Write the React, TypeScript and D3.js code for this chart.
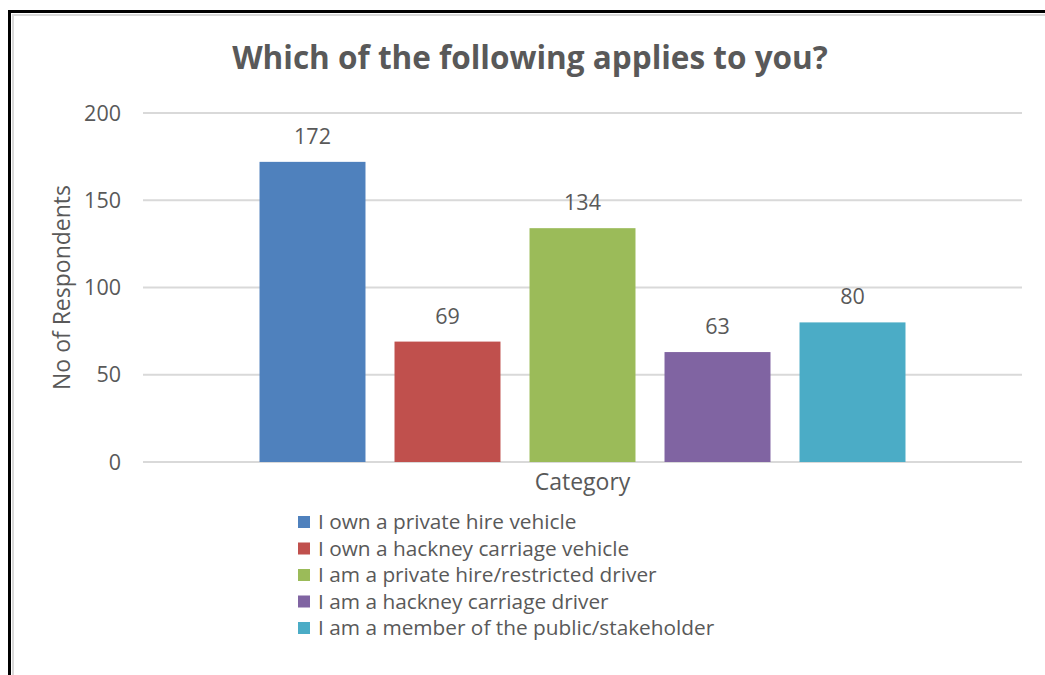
import React from 'react';
import * as d3 from 'd3';

const title = 'Which of the following applies to you?';
const categories = [
    'I own a private hire vehicle',
    'I own a hackney carriage vehicle',
    'I am a private hire/restricted driver',
    'I am a hackney carriage driver',
    'I am a member of the public/stakeholder',
];
const values = [172, 69, 134, 63, 80];
const colors = ['#4F81BD', '#C0504D', '#9BBB59', '#8064A2', '#4BACC6'];
const yTicks = [0, 50, 100, 150, 200];
const xLabel = 'Category';
const yLabel = 'No of Respondents';

const W = 1045;
const H = 675;
const font = '"Open Sans", sans-serif';
const textColor = '#595959';

const App: React.FC = () => {
    const plot = { left: 143, right: 1022, top: 113, bottom: 462 };

    const y = d3.scaleLinear().domain([0, 200]).range([plot.bottom, plot.top]);
    const x = d3.scaleBand<string>()
        .domain(categories)
        .range([plot.left, plot.right])
        .paddingInner(0.215)
        .paddingOuter(0.863);

    const legendX = 298;
    const legendY = 529;
    const legendStep = 26.5;

    return (
        <svg width={W} height={H} style={{ position: 'absolute', left: 0, top: 0, background: '#fff' }}>
            {/* frame */}
            <rect x={13} y={15} width={1200} height={800} fill="none" stroke="#d9d9d9" strokeWidth={2} />
            <rect x={9.5} y={11.5} width={1200} height={800} fill="none" stroke="#000" strokeWidth={3} />

            <text x={530} y={69} textAnchor="middle" fontFamily={font} fontWeight="bold" fontSize={31.5} fill={textColor}>
                {title}
            </text>

            {/* gridlines + y ticks */}
            {yTicks.map((t) => (
                <g key={t}>
                    <line x1={plot.left} x2={plot.right} y1={y(t)} y2={y(t)} stroke="#d9d9d9" strokeWidth={2} />
                    <text x={121} y={y(t)} dy="0.36em" textAnchor="end" fontFamily={font} fontSize={21.5} fill={textColor}>
                        {t}
                    </text>
                </g>
            ))}

            {/* bars */}
            {categories.map((c, i) => (
                <g key={c}>
                    <rect x={x(c)} y={y(values[i])} width={x.bandwidth()} height={y(0) - y(values[i])} fill={colors[i]} />
                    <text x={(x(c) || 0) + x.bandwidth() / 2} y={y(values[i]) - 18} textAnchor="middle"
                          fontFamily={font} fontSize={21.5} fill={textColor}>
                        {values[i]}
                    </text>
                </g>
            ))}

            <text x={(plot.left + plot.right) / 2} y={490} textAnchor="middle" fontFamily={font} fontSize={23} fill={textColor}>
                {xLabel}
            </text>
            <text transform={`translate(70, ${(plot.top + plot.bottom) / 2 + 0}) rotate(-90)`} textAnchor="middle"
                  fontFamily={font} fontSize={23} fill={textColor}>
                {yLabel}
            </text>

            {/* legend */}
            {categories.map((c, i) => (
                <g key={'lg' + c} transform={`translate(${legendX}, ${legendY + i * legendStep})`}>
                    <rect x={0} y={-13} width={12} height={12} fill={colors[i]} />
                    <text x={20} y={0} fontFamily={font} fontSize={20.8} fill={textColor}>{c}</text>
                </g>
            ))}
        </svg>
    );
};

export default App;
